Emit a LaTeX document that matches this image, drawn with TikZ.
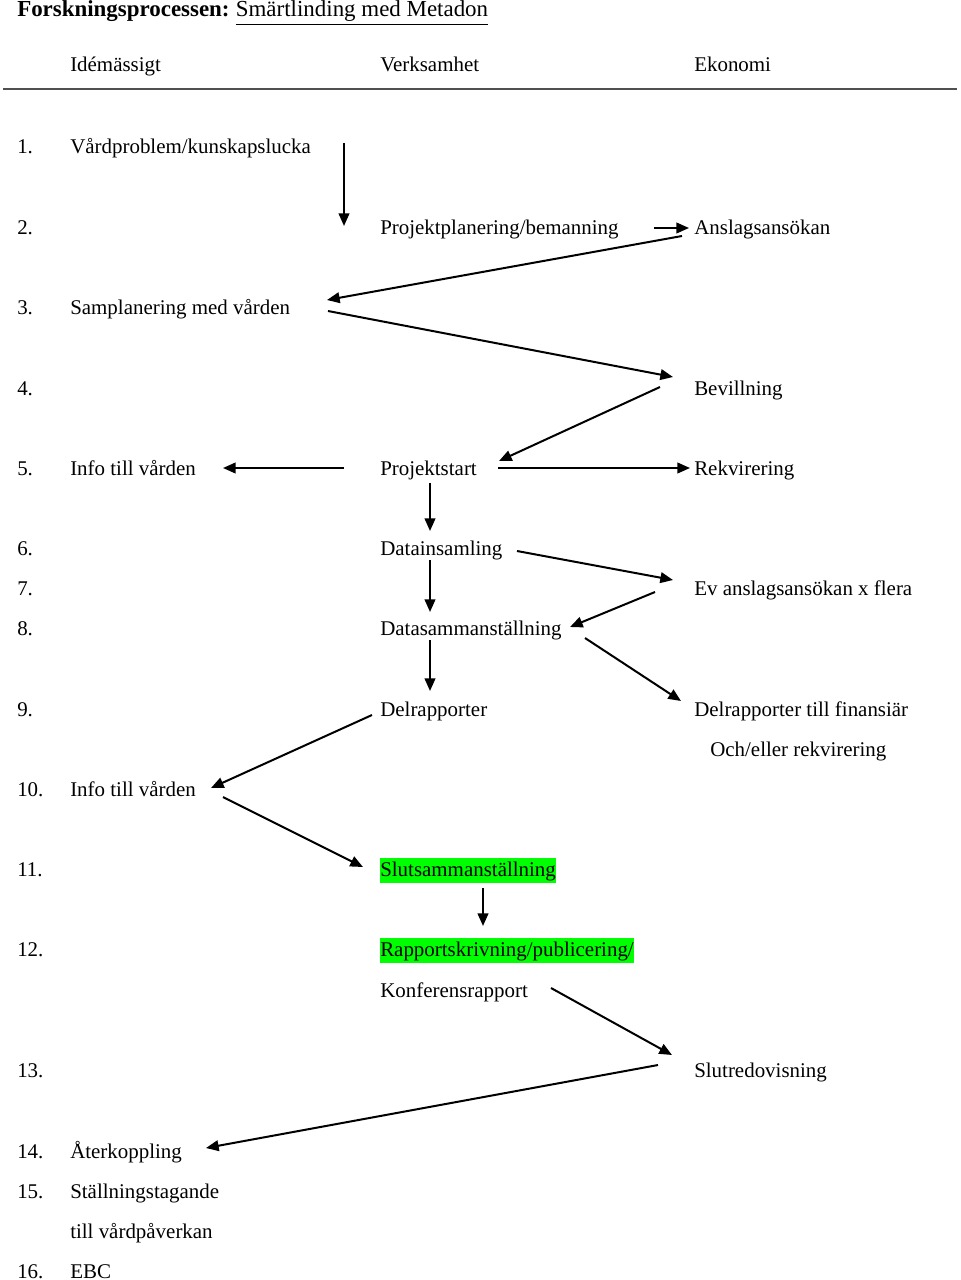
\documentclass[tikz,border=0pt]{standalone}
\usepackage{fontspec}
\setmainfont{Liberation Serif}
\usetikzlibrary{arrows.meta}
\definecolor{hl}{RGB}{0,255,0}
\definecolor{rule}{RGB}{80,80,80}
\begin{document}
\begin{tikzpicture}[x=0.75pt,y=-0.75pt,
  txt/.style={anchor=base west, inner sep=0pt, font=\fontsize{15.7}{18}\selectfont},
  hlt/.style={txt, fill=hl, inner xsep=0pt, inner ysep=1.5pt, text height=12pt, text depth=3.5pt},
  conn/.style={line width=1.5pt, -{Triangle[length=9.5pt,width=8pt]}}]
\useasboundingbox (0,0) rectangle (960,1280);
% title
\node[txt, font=\fontsize{17.2}{20}\selectfont\bfseries] (title) at (17,17) {Forskningsprocessen:};
\node[txt, font=\fontsize{17.2}{20}\selectfont] (subtitle) at (title.base east) {\ \underline{Smärtlinding med Metadon}};
% header
\node[txt] (h1) at (70,72) {Idémässigt};
\node[txt] (h2) at (380,72) {Verksamhet};
\node[txt] (h3) at (694,72) {Ekonomi};
\draw[rule, line width=1.8pt] (3,89) coordinate (r1) -- (957,89) coordinate (r2);
% numbers
\foreach \n/\y in {1/147,2/227,3/307,4/388,5/468,6/548,7/588,8/628,9/709,10/789,11/869,12/949,13/1070,14/1151,15/1191,16/1271}
  \node[txt] (n\n) at (17,\y+7) {\n.};
% column 1
\node[txt] (vard) at (70,154) {Vårdproblem/kunskapslucka};
\node[txt] (sampl) at (70,314) {Samplanering med vården};
\node[txt] (info5) at (70,475) {Info till vården};
\node[txt] (info10) at (70,796) {Info till vården};
\node[txt] (ater) at (70,1158) {Återkoppling};
\node[txt] (stall) at (70,1198) {Ställningstagande};
\node[txt] (stall2) at (70,1238) {till vårdpåverkan};
\node[txt] (ebc) at (70,1278) {EBC};
% column 2
\node[txt] (proj) at (380,234) {Projektplanering/bemanning};
\node[txt] (pstart) at (380,475) {Projektstart};
\node[txt] (dins) at (380,555) {Datainsamling};
\node[txt] (dsam) at (380,635) {Datasammanställning};
\node[txt] (delr) at (380,716) {Delrapporter};
\node[hlt] (slut) at (380,876) {Slutsammanställning};
\node[hlt] (rapp) at (380,956) {Rapportskrivning/publicering/};
\node[txt] (konf) at (380,997) {Konferensrapport};
% column 3
\node[txt] (ansl) at (694,234) {Anslagsansökan};
\node[txt] (bev) at (694,395) {Bevillning};
\node[txt] (rekv) at (694,475) {Rekvirering};
\node[txt] (ev) at (694,595) {Ev anslagsansökan x flera};
\node[txt] (delf) at (694,716) {Delrapporter till finansiär};
\node[txt] (och) at (710,756) {Och/eller rekvirering};
\node[txt] (slred) at (694,1077) {Slutredovisning};
% arrow end points
\coordinate (a1s) at (344,143);  \coordinate (a1e) at (344,226);
\coordinate (a2s) at (654,228);  \coordinate (a2e) at (689,228);
\coordinate (a3s) at (682,236);  \coordinate (a3e) at (327,300);
\coordinate (a4s) at (328,311);  \coordinate (a4e) at (673,377);
\coordinate (a5s) at (660,387);  \coordinate (a5e) at (499,461);
\coordinate (a6s) at (344,468);  \coordinate (a6e) at (223,468);
\coordinate (a7s) at (498,468);  \coordinate (a7e) at (690,468);
\coordinate (a8s) at (430,483);  \coordinate (a8e) at (430,531);
\coordinate (a9s) at (430,560);  \coordinate (a9e) at (430,612);
\coordinate (a10s) at (430,640); \coordinate (a10e) at (430,691);
\coordinate (a11s) at (517,551); \coordinate (a11e) at (673,580);
\coordinate (a12s) at (655,592); \coordinate (a12e) at (570,627);
\coordinate (a13s) at (585,638); \coordinate (a13e) at (681,701);
\coordinate (a14s) at (372,715); \coordinate (a14e) at (211,788);
\coordinate (a15s) at (223,797); \coordinate (a15e) at (363,867);
\coordinate (a16s) at (483,888); \coordinate (a16e) at (483,926);
\coordinate (a17s) at (551,988); \coordinate (a17e) at (672,1055);
\coordinate (a18s) at (658,1065);\coordinate (a18e) at (206,1148);
\foreach \i in {1,...,18} \draw[conn] (a\i s) -- (a\i e);
\end{tikzpicture}
\end{document}
